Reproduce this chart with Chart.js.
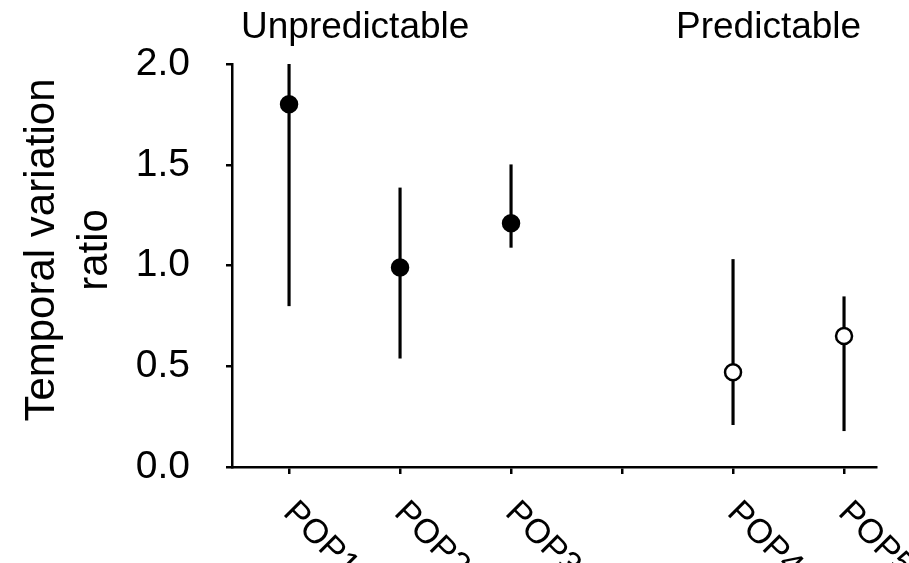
<!DOCTYPE html>
<html>
<head>
<meta charset="utf-8">
<script src="https://cdn.jsdelivr.net/npm/chart.js@4/dist/chart.umd.min.js"></script>
<style>
  html, body { margin: 0; padding: 0; background: #fff; }
  canvas { display: block; }
</style>
</head>
<body>
<canvas id="ratioChart" width="909" height="563"></canvas>
<script>
// Populations (empty slot = gap between the two groups)
const categories = ['POP1', 'POP2', 'POP3', '', 'POP4', 'POP5'];
const groups = ['Unpredictable', 'Unpredictable', 'Unpredictable', null, 'Predictable', 'Predictable'];
const groupNames = ['Unpredictable', 'Predictable'];

// Temporal variation ratio with its interval
const ratio = [1.80, 0.99, 1.21, null, 0.47, 0.65];
const lower = [0.80, 0.54, 1.09, null, 0.21, 0.18];
const upper = [2.00, 1.385, 1.50, null, 1.03, 0.845];

const yTicks = [0, 0.5, 1.0, 1.5, 2.0];

const FONT = '"Liberation Sans", Arial, sans-serif';

// indexes that actually hold a population
const filled = categories.map((c, i) => i).filter(i => ratio[i] != null);

// Text the built-in axes can't place the way the figure does
const labelPlugin = {
    id: 'figureLabels',
    afterDraw(chart) {
        const ctx = chart.ctx;
        const x = chart.scales.x;
        ctx.save();
        ctx.fillStyle = '#000';

        // group headings above the plot (shifted left of the first population)
        const headShift = { Unpredictable: 48, Predictable: 57 };
        ctx.font = '37px ' + FONT;
        ctx.textAlign = 'left';
        ctx.textBaseline = 'alphabetic';
        groupNames.forEach(g => {
            const first = groups.indexOf(g);
            ctx.fillText(g, x.getPixelForValue(first + 1) - headShift[g], 38);
        });

        // rotated category labels
        ctx.font = '34px ' + FONT;
        categories.forEach((c, i) => {
            if (!c) return;
            ctx.save();
            ctx.translate(x.getPixelForValue(i + 1) - 7, 514);
            ctx.rotate(Math.PI / 4);
            ctx.fillText(c, 0, 0);
            ctx.restore();
        });

        // y axis title, two lines
        ctx.font = '42px ' + FONT;
        ctx.textAlign = 'center';
        ctx.textBaseline = 'middle';
        ctx.save();
        ctx.translate(42, 250);
        ctx.rotate(-Math.PI / 2);
        ctx.fillText('Temporal variation', 0, 0);
        ctx.fillText('ratio', 0, 53);
        ctx.restore();

        ctx.restore();
    }
};

new Chart(document.getElementById('ratioChart'), {
    type: 'scatter',
    data: {
        datasets: [
            {
                type: 'bar',
                label: 'Interval',
                data: filled.map(i => ({ x: i + 1, y: [lower[i], upper[i]] })),
                backgroundColor: '#000',
                borderWidth: 0,
                barThickness: 2.5,
                order: 2
            },
            {
                label: 'Ratio',
                data: filled.map(i => ({ x: i + 1, y: ratio[i] })),
                pointRadius: 8,
                pointBorderWidth: 2.5,
                pointBorderColor: '#000',
                pointBackgroundColor: filled.map(i => groups[i] === 'Unpredictable' ? '#000' : '#fff'),
                showLine: false,
                order: 1
            }
        ]
    },
    plugins: [labelPlugin],
    options: {
        responsive: false,
        animation: false,
        layout: { padding: { top: 64, right: 33, left: 0, bottom: 0 } },
        plugins: {
            legend: { display: false },
            tooltip: { enabled: false }
        },
        scales: {
            x: {
                type: 'linear',
                offset: false,
                min: 0.486,
                max: 6.288,
                afterBuildTicks: scale => {
                    scale.ticks = categories.map((c, i) => ({ value: i + 1 }));
                },
                afterFit: scale => { scale.height = 96; },
                ticks: { display: false },
                grid: {
                    display: true,
                    offset: false,
                    drawOnChartArea: false,
                    drawTicks: true,
                    tickLength: 7,
                    color: '#000',
                    lineWidth: 2.5
                },
                border: { display: true, color: '#000', width: 2.5 }
            },
            y: {
                min: 0,
                max: 2,
                afterBuildTicks: scale => {
                    scale.ticks = yTicks.map(v => ({ value: v }));
                },
                afterFit: scale => { scale.width = 232; },
                ticks: {
                    color: '#000',
                    font: { family: FONT, size: 39 },
                    padding: 36,
                    callback: v => v.toFixed(1)
                },
                grid: {
                    display: true,
                    drawOnChartArea: false,
                    drawTicks: true,
                    tickLength: 6,
                    color: '#000',
                    lineWidth: 2.5
                },
                border: { display: true, color: '#000', width: 2.5 }
            }
        }
    }
});
</script>
</body>
</html>
